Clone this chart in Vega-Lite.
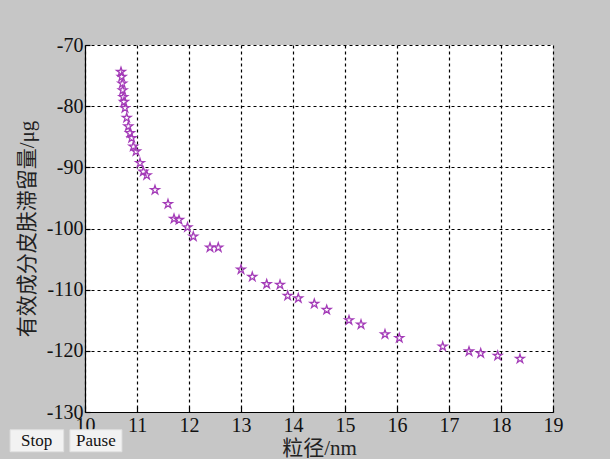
{
  "$schema": "https://vega.github.io/schema/vega-lite/v6.json",
  "width": 468,
  "height": 367,
  "autosize": {"type": "none"},
  "padding": {"left": 85, "top": 45, "right": 57, "bottom": 47},
  "background": "#c6c6c6",
  "config": {
    "view": {"fill": "white", "stroke": null},
    "axis": {
      "labelFont": "Liberation Serif",
      "labelFontSize": 20,
      "labelColor": "#111",
      "labelFlush": false,
      "labelExpr": "toString(datum.value)",
      "titleFont": "Liberation Serif, Noto Sans CJK SC",
      "titleFontSize": 21,
      "titleFontWeight": "normal",
      "titleColor": "#222",
      "domainColor": "black",
      "domainWidth": 1.2,
      "gridColor": "black",
      "gridDash": [3, 3],
      "gridWidth": 1.2,
      "gridOpacity": 1,
      "ticks": true,
      "tickSize": -5,
      "tickColor": "black",
      "tickWidth": 1.2
    }
  },
  "layer": [
    {
      "data": {
        "values": [
          {"d": 10.692, "m": -74.4},
          {"d": 10.706, "m": -75.2},
          {"d": 10.717, "m": -76.3},
          {"d": 10.725, "m": -77.4},
          {"d": 10.737, "m": -78.5},
          {"d": 10.75, "m": -79.3},
          {"d": 10.769, "m": -80.3},
          {"d": 10.802, "m": -81.9},
          {"d": 10.833, "m": -83.3},
          {"d": 10.865, "m": -84.4},
          {"d": 10.898, "m": -85.2},
          {"d": 10.929, "m": -86.6},
          {"d": 10.981, "m": -87.4},
          {"d": 11.058, "m": -89.3},
          {"d": 11.121, "m": -90.7},
          {"d": 11.187, "m": -91.3},
          {"d": 11.346, "m": -93.7},
          {"d": 11.596, "m": -96.0},
          {"d": 11.712, "m": -98.4},
          {"d": 11.808, "m": -98.6},
          {"d": 11.971, "m": -99.8},
          {"d": 12.083, "m": -101.3},
          {"d": 12.404, "m": -103.1},
          {"d": 12.563, "m": -103.1},
          {"d": 13.0, "m": -106.7},
          {"d": 13.217, "m": -107.9},
          {"d": 13.494, "m": -109.1},
          {"d": 13.75, "m": -109.2},
          {"d": 13.898, "m": -111.0},
          {"d": 14.102, "m": -111.4},
          {"d": 14.41, "m": -112.3},
          {"d": 14.648, "m": -113.3},
          {"d": 15.077, "m": -115.0},
          {"d": 15.308, "m": -115.7},
          {"d": 15.769, "m": -117.3},
          {"d": 16.044, "m": -117.9},
          {"d": 16.879, "m": -119.3},
          {"d": 17.385, "m": -120.1},
          {"d": 17.61, "m": -120.4},
          {"d": 17.937, "m": -120.8},
          {"d": 18.365, "m": -121.3}
        ]
      },
      "mark": {"type": "point", "shape": "M0,-1L0.2245,-0.309L0.9511,-0.309L0.3633,0.118L0.5878,0.809L0,0.382L-0.5878,0.809L-0.3633,0.118L-0.9511,-0.309L-0.2245,-0.309Z", "filled": false, "color": "#a43cb8", "strokeWidth": 1.3, "size": 85, "opacity": 1},
      "encoding": {
        "x": {
          "field": "d", "type": "quantitative",
          "scale": {"domain": [10, 19], "nice": false, "zero": false},
          "axis": {"values": [10, 11, 12, 13, 14, 15, 16, 17, 18, 19], "title": "粒径/nm", "labelPadding": 8, "titlePadding": 2}
        },
        "y": {
          "field": "m", "type": "quantitative",
          "scale": {"domain": [-130, -70], "nice": false, "zero": false},
          "axis": {"values": [-130, -120, -110, -100, -90, -80, -70], "title": "有效成分皮肤滞留量/μg", "labelPadding": 7, "titlePadding": 9}
        }
      }
    },
    {
      "data": {
        "values": [
          {"label": "Stop", "xa": 8.56, "xb": 9.59, "xc": 9.07, "ya": -132.9, "yb": -136.5, "yc": -134.7},
          {"label": "Pause", "xa": 9.71, "xb": 10.71, "xc": 10.21, "ya": -132.9, "yb": -136.5, "yc": -134.7}
        ]
      },
      "layer": [
        {
          "mark": {"type": "rect", "fill": "#f2f2f2", "stroke": "#e0e0e0", "strokeWidth": 1},
          "encoding": {
            "x": {"field": "xa", "type": "quantitative"},
            "x2": {"field": "xb"},
            "y": {"field": "ya", "type": "quantitative"},
            "y2": {"field": "yb"}
          }
        },
        {
          "mark": {"type": "text", "font": "Liberation Serif", "fontSize": 17, "color": "#111", "baseline": "middle", "align": "center"},
          "encoding": {
            "x": {"field": "xc", "type": "quantitative"},
            "y": {"field": "yc", "type": "quantitative"},
            "text": {"field": "label"}
          }
        }
      ]
    }
  ]
}
